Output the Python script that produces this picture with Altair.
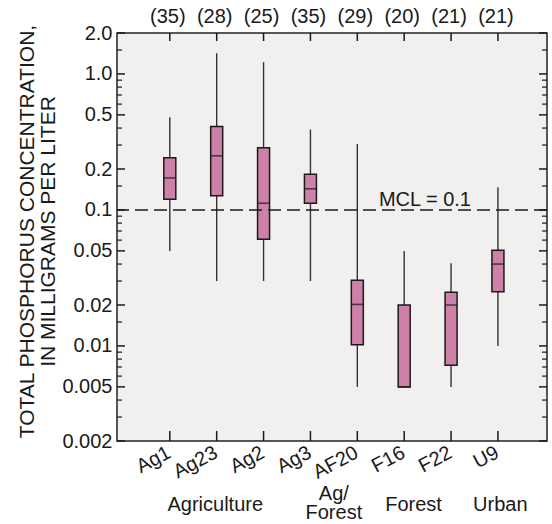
import json
import altair as alt
import pandas as pd

# ---- data ----
sites = ["Ag1", "Ag23", "Ag2", "Ag3", "AF20", "F16", "F22", "U9"]
counts = [35, 28, 25, 35, 29, 20, 21, 21]
whisk_lo = [0.05, 0.03, 0.03, 0.03, 0.005, 0.005, 0.005, 0.01]
q1 = [0.12, 0.127, 0.061, 0.112, 0.0102, 0.005, 0.0072, 0.025]
median = [0.172, 0.25, 0.112, 0.143, 0.0202, 0.005, 0.02, 0.04]
q3 = [0.242, 0.41, 0.287, 0.183, 0.0304, 0.02, 0.0248, 0.0505]
whisk_hi = [0.48, 1.42, 1.22, 0.39, 0.305, 0.05, 0.0406, 0.147]

groups_single = ["Agriculture", "Forest", "Urban"]
groups_single_pos = [1.97, 6.2, 8.05]
groups_double = ["Ag/\nForest"]
groups_double_pos = [4.5]

y_major = [2.0, 1.0, 0.5, 0.2, 0.1, 0.05, 0.02, 0.01, 0.005, 0.002]
y_minor = [1.5, 0.9, 0.8, 0.7, 0.6, 0.4, 0.3, 0.15, 0.09, 0.08, 0.07, 0.06,
           0.04, 0.03, 0.015, 0.009, 0.008, 0.007, 0.006, 0.004, 0.003]
mcl_value = 0.1
mcl_text = "MCL = 0.1"
mcl_label_pos = 5.46

y_title = ["TOTAL PHOSPHORUS CONCENTRATION,", "IN MILLIGRAMS PER LITER"]

# ---- layout ----
W, H = 430, 408
FONT = "Liberation Sans"
INK = "#1a1a1a"

boxes = pd.DataFrame({
    "pos": list(range(1, len(sites) + 1)),
    "site": sites, "n": [f"({c})" for c in counts],
    "lo": whisk_lo, "q1": q1, "med": median, "q3": q3, "hi": whisk_hi,
})
ymaj = pd.DataFrame({"v": y_major})
ymin = pd.DataFrame({"v": y_minor})
grp1 = pd.DataFrame({"g": groups_single, "gpos": groups_single_pos})
grp2 = pd.DataFrame({"g": groups_double, "gpos": groups_double_pos})
mcl = pd.DataFrame({"mcl": [mcl_value], "lab": [mcl_text], "lpos": [mcl_label_pos]})

xs = alt.Scale(domain=[-0.02, 8.94], nice=False, zero=False)
ys = alt.Scale(type="log", domain=[0.002, 2.0], nice=False)

label_arr = json.dumps(sites)
x_axis = alt.Axis(
    values=list(range(1, len(sites) + 1)),
    labelExpr=f"{label_arr}[datum.value - 1]",
    title=None, tickSize=0, domain=False, grid=False,
    labelAngle=332, labelAlign="right", labelBaseline="middle",
    labelPadding=10, labelOffset=-1, labelFontSize=20, labelOverlap=False,
    labelFlush=False, labelBound=False,
)
y_axis = alt.Axis(
    values=y_major,
    labelExpr="datum.value >= 1 ? format(datum.value, '.1f') : '' + datum.value",
    title=y_title, tickSize=0, domain=False, grid=False,
    labelPadding=5, labelFontSize=20, labelOverlap=False, labelFlush=False,
    titleFontSize=21, titleFontWeight="normal", titleAngle=270,
    titleX=-101, titleY=198, titleAlign="center", titleBaseline="top",
    titleLineHeight=21,
)


def X(field):
    return alt.X(field, type="quantitative", scale=xs, axis=x_axis)


def Y(field):
    return alt.Y(field, type="quantitative", scale=ys, axis=y_axis)


whisk = alt.Chart(boxes).mark_rule(color="#333333", strokeWidth=1.4).encode(
    x=X("pos"), y=Y("lo"), y2="hi")
box = alt.Chart(boxes).mark_bar(size=12, fill="#cd80a8", stroke=INK,
                                strokeWidth=1.5).encode(
    x=X("pos"), y=Y("q1"), y2="q3")
med = alt.Chart(boxes).mark_tick(orient="horizontal", size=12, thickness=1.6,
                                 color=INK).encode(x=X("pos"), y=Y("med"))

mcl_line = alt.Chart(mcl).mark_rule(color=INK, strokeWidth=1.5,
                                    strokeDash=[13, 6]).encode(y=Y("mcl"))
mcl_lab = alt.Chart(mcl).mark_text(align="left", baseline="alphabetic", dy=-4,
                                   fontSize=20, color=INK).encode(
    x=X("lpos"), y=Y("mcl"), text="lab")

# inward ticks
ymaj_l = alt.Chart(ymaj).mark_rule(color=INK, strokeWidth=1.5).encode(
    y=Y("v"), x=alt.value(0), x2=alt.value(8))
ymaj_r = alt.Chart(ymaj).mark_rule(color=INK, strokeWidth=1.5).encode(
    y=Y("v"), x=alt.value(W - 8), x2=alt.value(W))
ymin_l = alt.Chart(ymin).mark_rule(color=INK, strokeWidth=1.2).encode(
    y=Y("v"), x=alt.value(0), x2=alt.value(5))
ymin_r = alt.Chart(ymin).mark_rule(color=INK, strokeWidth=1.2).encode(
    y=Y("v"), x=alt.value(W - 5), x2=alt.value(W))
xt_top = alt.Chart(boxes).mark_rule(color=INK, strokeWidth=1.5).encode(
    x=X("pos"), y=alt.value(0), y2=alt.value(8))
xt_bot = alt.Chart(boxes).mark_rule(color=INK, strokeWidth=1.5).encode(
    x=X("pos"), y=alt.value(H - 10), y2=alt.value(H))

cnt = alt.Chart(boxes).mark_text(baseline="middle", fontSize=20, color=INK,
                                 dx=-2).encode(
    x=X("pos"), y=alt.value(-16), text="n")
grp_lab1 = alt.Chart(grp1).mark_text(baseline="middle", fontSize=20,
                                     color=INK).encode(
    x=X("gpos"), y=alt.value(472), text="g")
grp_lab2 = alt.Chart(grp2).mark_text(baseline="middle", fontSize=20, color=INK,
                                     lineBreak="\n", lineHeight=19).encode(
    x=X("gpos"), y=alt.value(461), text="g")

chart = alt.layer(
    whisk, box, med, mcl_line, mcl_lab,
    ymaj_l, ymaj_r, ymin_l, ymin_r, xt_top, xt_bot, cnt, grp_lab1, grp_lab2,
).properties(
    width=W, height=H,
    autosize=alt.AutoSizeParams(type="none"),
    padding={"left": 117, "top": 33, "right": 5, "bottom": 83},
    background="white",
).configure_view(
    fill="#f1f0ee", stroke="#222222", strokeWidth=1.5,
).configure_axis(
    labelFont=FONT, titleFont=FONT, labelColor=INK, titleColor=INK,
).configure_text(font=FONT)

chart.save("out.html", embed_options={"renderer": "svg", "actions": False})
